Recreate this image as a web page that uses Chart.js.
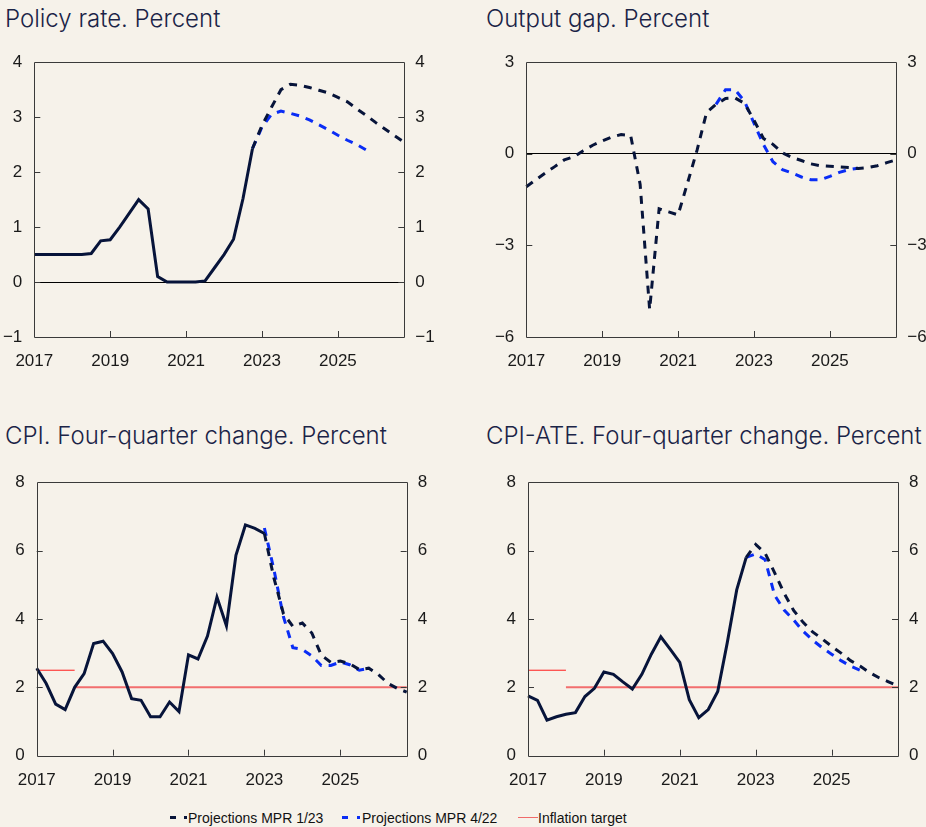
<!DOCTYPE html>
<html>
<head>
<meta charset="utf-8">
<script src="https://cdn.jsdelivr.net/npm/chart.js@4"></script>
<style>
  html, body { margin: 0; padding: 0; background: #f6f2ea; }
  #page { position: relative; width: 926px; height: 827px; background: #f6f2ea; overflow: hidden; }
  canvas { position: absolute; }
  .title { position: absolute; font-family: Inter, "Open Sans", sans-serif; font-weight: 300;
           font-size: 24px; color: #1b2447; white-space: nowrap; line-height: 1; }
  .leg { position: absolute; top: 809px; font-family: "Liberation Sans", Arial, sans-serif;
         font-size: 14px; color: #111; white-space: nowrap; line-height: 18px; }
  .sw { position: absolute; }
</style>
</head>
<body>
<div id="page">
  <div class="title" style="left:5px; top:7px;">Policy rate. Percent</div>
  <div class="title" style="left:486px; top:7px;">Output gap. Percent</div>
  <div class="title" style="left:5px; top:424px;">CPI. Four-quarter change. Percent</div>
  <div class="title" style="left:486px; top:424px;">CPI-ATE. Four-quarter change. Percent</div>

  <canvas id="policy" width="463" height="340" style="left:0; top:40px;"></canvas>
  <canvas id="gap" width="463" height="340" style="left:463px; top:40px;"></canvas>
  <canvas id="cpi" width="463" height="340" style="left:0; top:460px;"></canvas>
  <canvas id="ate" width="463" height="340" style="left:463px; top:460px;"></canvas>

  <div class="sw" style="left:170px; top:816px; width:6px; height:3px; background:#07143a;"></div>
  <div class="sw" style="left:184px; top:816px; width:3px; height:3px; background:#07143a;"></div>
  <div class="leg" style="left:188px;">Projections MPR 1/23</div>
  <div class="sw" style="left:342px; top:816px; width:6px; height:3px; background:#0a2df5;"></div>
  <div class="sw" style="left:357px; top:816px; width:3px; height:3px; background:#0a2df5;"></div>
  <div class="leg" style="left:362px;">Projections MPR 4/22</div>
  <div class="sw" style="left:518px; top:817px; width:20px; height:1px; background:#f06a6a;"></div>
  <div class="leg" style="left:538px;">Inflation target</div>
</div>

<script>
// quarters 2017Q1 .. 2026Q4
const quarters = [];
for (let y = 2017; y <= 2026; y++) for (let q = 1; q <= 4; q++) quarters.push(y + 'Q' + q);

// Policy rate
const policyActual = [0.5, 0.5, 0.5, 0.5, 0.5, 0.5, 0.52, 0.75, 0.77, 1.0, 1.25, 1.5,
  1.33, 0.1, 0, 0, 0, 0, 0.02, 0.26, 0.5, 0.78, 1.52, 2.43];            // from 2017Q1
const policyMpr123 = [2.43, 2.85, 3.18, 3.5, 3.6, 3.58, 3.54, 3.49, 3.44, 3.36, 3.28,
  3.15, 3.03, 2.9, 2.78, 2.66, 2.54];                                  // from 2022Q4
const policyMpr422 = [2.43, 2.82, 3.05, 3.11, 3.07, 3.02, 2.95, 2.86, 2.77, 2.67, 2.58,
  2.5, 2.4];                                                            // from 2022Q4

// Output gap
const gapMpr123 = [-1.08, -0.85, -0.63, -0.42, -0.2, -0.1, 0.1, 0.28, 0.42, 0.55, 0.63, 0.6,
  -1.0, -5.1, -1.8, -1.9, -2.0, -0.95, 0.12, 1.35, 1.62, 1.81, 1.83, 1.65, 1.1, 0.5,
  0.31, 0.03, -0.12, -0.22, -0.33, -0.39, -0.41, -0.43, -0.45, -0.48, -0.45, -0.39,
  -0.29, -0.2];                                                         // from 2017Q1
const gapMpr422 = [1.62, 2.1, 2.1, 1.72, 1.0, 0.3, -0.26, -0.52, -0.63, -0.76, -0.85,
  -0.85, -0.74, -0.61, -0.52, -0.47];                                   // from 2022Q1

// CPI
const cpiActual = [2.56, 2.11, 1.51, 1.35, 2.0, 2.4, 3.28, 3.35, 2.99, 2.45, 1.67, 1.62,
  1.14, 1.14, 1.57, 1.29, 2.95, 2.83, 3.5, 4.64, 3.8, 5.86, 6.75, 6.65, 6.5]; // from 2017Q1
const cpiMpr123 = [6.5, 5.2, 4.16, 3.78, 3.88, 3.59, 2.94, 2.73, 2.77, 2.69, 2.52, 2.56,
  2.38, 2.12, 1.97, 1.86];                                              // from 2023Q1
const cpiMpr422 = [6.66, 5.45, 4.07, 3.16, 3.11, 2.92, 2.64, 2.64, 2.74, 2.66, 2.5, 2.56]; // from 2023Q1

// CPI-ATE
const ateActual = [1.75, 1.62, 1.04, 1.14, 1.21, 1.26, 1.73, 1.97, 2.45, 2.38, 2.16, 1.95,
  2.38, 2.97, 3.48, 3.11, 2.73, 1.64, 1.11, 1.35, 1.88, 3.3, 4.85, 5.8]; // from 2017Q1
const ateMpr123 = [5.8, 6.18, 5.92, 5.35, 4.75, 4.25, 3.9, 3.62, 3.42, 3.2, 3.0, 2.78,
  2.62, 2.43, 2.28, 2.16, 2.04];                                        // from 2022Q4
const ateMpr422 = [5.8, 5.9, 5.73, 4.69, 4.26, 3.97, 3.64, 3.38, 3.16, 2.97, 2.78, 2.62,
  2.5];                                                                 // from 2022Q4

// Inflation target
const targetOld = { from: '2017Q1', to: '2018Q1', value: 2.5 };
const targetNew = { from: '2018Q1', to: '2026Q4', value: 2.0 };

const NAVY = '#07143a';
const BLUE = '#0a2df5';
const TICK_FONT = { family: '"Liberation Sans", Arial, sans-serif', size: 17 };

function from(q, values) {
  const start = quarters.indexOf(q);
  return values.map((v, i) => ({ x: quarters[start + i], y: v }));
}

function solid(data) {
  return { data, borderColor: NAVY, borderWidth: 3, order: 1 };
}
function dashed(data, color) {
  return { data, borderColor: color, borderWidth: 3, borderDash: [8, 7], order: color === NAVY ? 2 : 3 };
}
function target(t, color, width) {
  return { data: [{ x: t.from, y: t.value }, { x: t.to, y: t.value }], borderColor: color, borderWidth: width, order: 5 };
}

const minus = v => String(v).replace('-', '\u2212');

// frame and inward tick marks
const framePlugin = {
  id: 'frame',
  afterDatasetsDraw(chart) {
    const { ctx, chartArea: a, scales } = chart;
    ctx.save();
    ctx.strokeStyle = '#3a3a3a';
    ctx.lineWidth = 1;
    ctx.beginPath();
    ctx.rect(Math.round(a.left) + 0.5, Math.round(a.top) + 0.5,
             Math.round(a.right) - Math.round(a.left), Math.round(a.bottom) - Math.round(a.top));
    scales.y.ticks.forEach(t => {
      if (t.value === scales.y.min || t.value === scales.y.max) return;
      const y = Math.round(scales.y.getPixelForValue(t.value)) + 0.5;
      ctx.moveTo(a.left, y); ctx.lineTo(a.left + 6, y);
      ctx.moveTo(a.right, y); ctx.lineTo(a.right - 6, y);
    });
    [8, 16, 24, 32].forEach(i => {
      const x = Math.round(scales.x.getPixelForValue(i)) + 0.5;
      ctx.moveTo(x, a.bottom); ctx.lineTo(x, a.bottom - 6);
    });
    ctx.stroke();
    ctx.restore();
  }
};

function panel(id, p) {
  const yScale = (position, width, display) => ({
    position, min: p.min, max: p.max,
    ticks: { stepSize: p.step, padding: position === 'left' ? 12 : 11, color: '#1a1a1a', font: TICK_FONT, callback: minus },
    grid: {
      display,
      drawTicks: false,
      lineWidth: 1,
      color: ctx => (p.zero && ctx.tick && ctx.tick.value === 0) ? '#000000' : 'rgba(0,0,0,0)'
    },
    border: { display: false },
    afterFit: s => { s.width = width; }
  });
  return new Chart(document.getElementById(id), {
    type: 'line',
    data: { labels: quarters, datasets: p.datasets },
    options: {
      responsive: false,
      animation: false,
      events: [],
      layout: { padding: { top: p.top, left: 0, right: 0, bottom: 0 } },
      elements: { point: { radius: 0 }, line: { tension: 0, borderCapStyle: 'butt', borderJoinStyle: 'miter' } },
      plugins: { legend: { display: false }, tooltip: { enabled: false } },
      scales: {
        x: {
          type: 'category', offset: false,
          grid: { display: false, drawTicks: false },
          border: { display: false },
          ticks: {
            autoSkip: false, maxRotation: 0, padding: 14, color: '#1a1a1a', font: TICK_FONT,
            callback: (v, i) => (i % 8 === 0 ? quarters[i].slice(0, 4) : '')
          },
          afterFit: s => { s.height = p.bottom; }
        },
        y: yScale('left', p.left, true),
        y2: yScale('right', p.right, false)
      }
    },
    plugins: [framePlugin]
  });
}

panel('policy', {
  min: -1, max: 4, step: 1, zero: true, top: 17, bottom: 43, left: 34.3, right: 58.7,
  datasets: [
    solid(from('2017Q1', policyActual)),
    dashed(from('2022Q4', policyMpr123), NAVY),
    dashed(from('2022Q4', policyMpr422), BLUE)
  ]
});

panel('gap', {
  min: -6, max: 3, step: 3, zero: true, top: 17, bottom: 43, left: 63.3, right: 29.7,
  datasets: [
    dashed(from('2017Q1', gapMpr123), NAVY),
    dashed(from('2022Q1', gapMpr422), BLUE)
  ]
});

panel('cpi', {
  min: 0, max: 8, step: 2, zero: false, top: 16, bottom: 44.3, left: 36.7, right: 56.3,
  datasets: [
    solid(from('2017Q1', cpiActual)),
    dashed(from('2023Q1', cpiMpr123), NAVY),
    dashed(from('2023Q1', cpiMpr422), BLUE),
    target(targetOld, '#ff1a1a', 1),
    target(targetNew, '#f26e6e', 2)
  ]
});

panel('ate', {
  min: 0, max: 8, step: 2, zero: false, top: 16, bottom: 44.3, left: 65, right: 28,
  datasets: [
    solid(from('2017Q1', ateActual)),
    dashed(from('2022Q4', ateMpr123), NAVY),
    dashed(from('2022Q4', ateMpr422), BLUE),
    target(targetOld, '#ff1a1a', 1),
    target(targetNew, '#f26e6e', 2)
  ]
});
</script>
</body>
</html>
